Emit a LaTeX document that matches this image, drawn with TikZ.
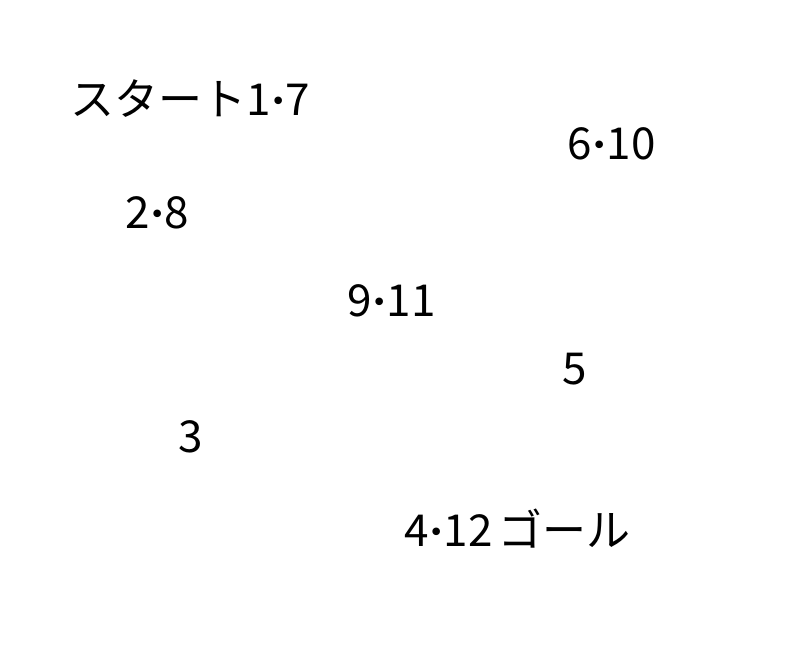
\documentclass[tikz,border=0pt]{standalone}
\usepackage{fontspec}
\setmainfont{Noto Sans CJK JP}
\newfontfamily\dotfont{DejaVu Sans}
\newcommand\mdot{\raisebox{5pt}{\dotfont\fontsize{26}{26}\selectfont •}}
\begin{document}
\begin{tikzpicture}[
					x = 1pt, y = -1pt,
					every node/.style = {inner sep = 0pt, anchor = base west},
					lbl/.style = {font = \fontsize{44}{48}\selectfont}]

					\useasboundingbox (0,0) rectangle (790,651);

					\node[lbl] (start) at (70,115) {スタート1\mdot 7};
					\node[lbl] (s6)    at (567,159) {6\mdot 10};
					\node[lbl] (s2)    at (125,228) {2\mdot 8};
					\node[lbl] (s9)    at (347,316) {9\mdot 11};
					\node[lbl] (s5)    at (562,384) {5};
					\node[lbl] (s3)    at (178,452) {3};
					\node[lbl] (goal)  at (404,546) {4\mdot 12\hspace{6pt}ゴール};

				\end{tikzpicture}
\end{document}
